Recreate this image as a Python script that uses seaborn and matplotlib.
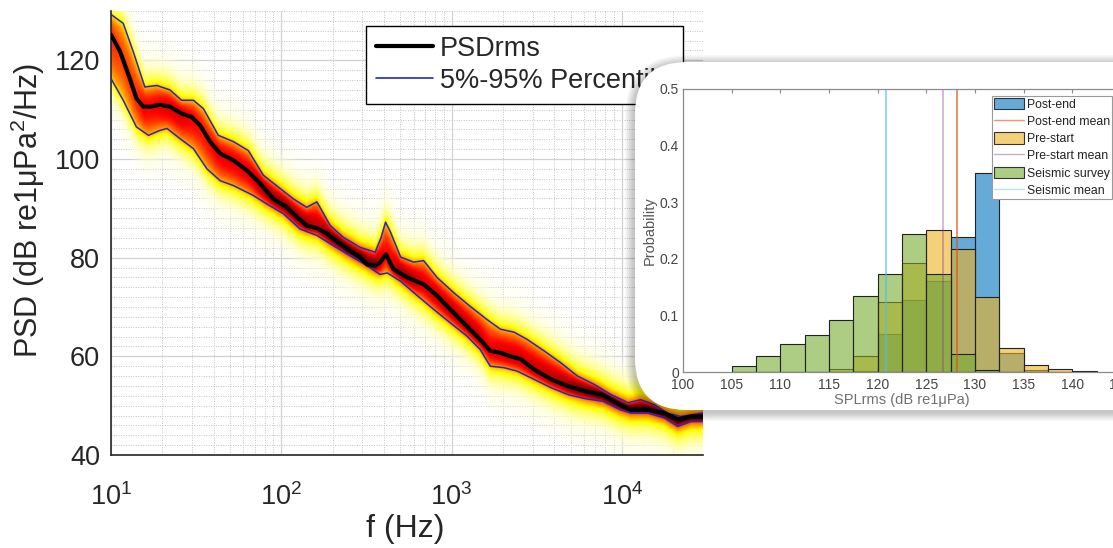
import numpy as np
import matplotlib
matplotlib.use('Agg')
import matplotlib.pyplot as plt
import seaborn as sns
from matplotlib.colors import ListedColormap, Normalize, to_rgba
from matplotlib.patches import FancyBboxPatch, Patch
from matplotlib.lines import Line2D
from matplotlib.transforms import IdentityTransform
from matplotlib.ticker import (LogLocator, MultipleLocator, NullFormatter,
                               FuncFormatter, LogFormatterMathtext)

# --- PSD curves ---
med_f = [10, 11.3, 12.9, 14.1, 15.5, 17.0, 19.4, 22.2, 26.0, 29.8, 33.4, 38.2, 43.8,
         52.5, 62.8, 75.2, 90.0, 108, 123, 141, 162, 186, 213, 250, 290, 320, 356,
         380, 412, 455, 550, 686, 822, 983, 1232, 1473, 1688, 1938, 2226, 2556,
         3066, 3867, 4870, 6150, 7740, 9760, 11300, 14200, 17800, 21300, 25600, 30000]
med_db = [125.2, 121.8, 116.3, 112.3, 110.6, 110.6, 111.0, 110.6, 109.2, 108.5, 106.8,
          103.5, 101.1, 99.7, 97.7, 95.0, 91.9, 90.2, 88.3, 86.5, 86.0, 84.8, 83.3,
          81.5, 80.1, 78.6, 78.4, 79.0, 80.7, 77.7, 76.0, 74.6, 72.3, 69.5, 66.1,
          63.4, 61.1, 60.7, 60.0, 59.4, 57.3, 55.3, 53.9, 52.9, 52.2, 50.2, 49.2,
          49.2, 48.5, 47.2, 47.8, 47.8]

up_f = [10, 11.8, 13.5, 15.8, 18.6, 22.2, 26.0, 30.5, 34.9, 42.7, 52.5, 64.1, 78.5,
        98.6, 118, 141, 162, 194, 232, 290, 356, 385, 410, 438, 503, 600, 686, 822,
        1030, 1280, 1610, 1938, 2330, 2790, 3500, 4380, 5500, 6900, 8700, 10900,
        12900, 15500, 18500, 22100, 30000]
up_db = [129.3, 127.5, 121.8, 114.6, 114.9, 114.0, 111.9, 111.9, 110.2, 104.8, 103.5,
         101.7, 96.7, 94.0, 91.9, 90.2, 91.3, 86.5, 84.1, 82.1, 81.1, 84.0, 87.2,
         85.2, 80.1, 79.1, 79.4, 76.0, 72.9, 70.2, 67.5, 65.5, 64.9, 63.4, 61.1,
         58.7, 56.0, 54.3, 52.2, 50.6, 51.2, 50.2, 48.5, 47.8, 48.5]

lo_f = [10, 11.8, 14.1, 16.6, 19.4, 21.3, 25.5, 30.5, 36.6, 43.8, 52.5, 68.6, 82.1,
        103, 129, 162, 203, 253, 318, 380, 420, 503, 630, 787, 983, 1232, 1473,
        1688, 2030, 2430, 3066, 3867, 4870, 6150, 7740, 9760, 11300, 14200, 17800,
        21300, 25600, 30000]
lo_db = [116.3, 111.9, 106.5, 104.8, 105.8, 106.2, 104.1, 102.1, 98.0, 95.6, 94.6,
         92.6, 90.9, 88.9, 85.8, 84.5, 82.4, 80.4, 78.4, 76.6, 76.9, 75.2, 72.3,
         69.5, 66.8, 64.1, 61.4, 58.0, 57.7, 57.0, 55.3, 53.6, 52.2, 51.4, 50.9,
         49.2, 48.5, 48.5, 47.5, 45.8, 46.8, 46.8]

# --- SPL histogram (probability per 2.5 dB bin) ---
spl_bins = [105, 107.5, 110, 112.5, 115, 117.5, 120, 122.5, 125, 127.5, 130, 132.5,
            135, 137.5, 140]
post_end = [0, 0, 0, 0, 0, 0.002, 0.068, 0.127, 0.160, 0.238, 0.351, 0.034, 0.003, 0, 0]
pre_start = [0, 0, 0, 0, 0.005, 0.028, 0.123, 0.193, 0.251, 0.218, 0.133, 0.043,
             0.012, 0.005, 0.001]
seismic = [0.011, 0.029, 0.049, 0.065, 0.091, 0.135, 0.174, 0.244, 0.173, 0.031,
           0.004, 0, 0, 0, 0]
means = {'Post-end': 128.1, 'Pre-start': 126.7, 'Seismic': 120.9}

c_blue, c_orange, c_yellow = '#0072BD', '#D95319', '#EDB120'
c_purple, c_green, c_cyan = '#7E2F8E', '#77AC30', '#4DBEEE'

sns.set_style('white')
plt.rcParams['font.family'] = ['Liberation Sans', 'DejaVu Sans']
plt.rcParams['mathtext.fontset'] = 'custom'
plt.rcParams['mathtext.rm'] = 'Liberation Sans'
plt.rcParams['mathtext.it'] = 'Liberation Sans:italic'
plt.rcParams['mathtext.bf'] = 'Liberation Sans:bold'

W, H = 1113, 548
fig = plt.figure(figsize=(W / 100, H / 100), dpi=100)

# ---------------- main PSD plot ----------------
ax = fig.add_axes([111 / W, 1 - 455 / H, 592 / W, 444 / H])

# probability density cloud built from the median / percentile curves
lf = np.linspace(1, np.log10(3e4), 520)
yy = np.linspace(40, 130, 420)
m = np.interp(lf, np.log10(med_f), med_db)
u = np.interp(lf, np.log10(up_f), up_db)
l = np.interp(lf, np.log10(lo_f), lo_db)
hu = np.maximum(u - m, 0.4)
hl = np.maximum(m - l, 0.4)
peak = 2 * 1.645 / (np.sqrt(2 * np.pi) * (hu + hl))
t0 = np.clip(1.1 + 0.23 * np.log(peak), 0.4, 0.95)
dy = yy[:, None] - m[None, :]
hw = np.where(dy > 0, hu, hl)
kk = np.abs(dy) / hw
inside = t0 * (1 - 0.45 * kk ** 2)
beyond = np.abs(dy) - hw
outside = 0.55 * t0 * np.exp(-beyond / 2.3)
tval = np.where(kk <= 1, inside, outside)

cols = plt.get_cmap('hot_r')(np.linspace(0, 1, 256))
cols[:, 3] = np.clip(np.linspace(0, 1, 256) / 0.2, 0, 1)
cmap = ListedColormap(cols)
ax.pcolormesh(10 ** lf, yy, tval, cmap=cmap, norm=Normalize(0, 1),
              shading='gouraud', rasterized=True, zorder=1)

sns.lineplot(x=up_f, y=up_db, color='#2626c4', linewidth=1.1, ax=ax, sort=False, zorder=3)
sns.lineplot(x=lo_f, y=lo_db, color='#2626c4', linewidth=1.1, ax=ax, sort=False, zorder=3)
sns.lineplot(x=med_f, y=med_db, color='black', linewidth=3, ax=ax, sort=False, zorder=4)

ax.set_xscale('log')
ax.set_xlim(10, 3e4)
ax.set_ylim(40, 130)
ax.set_yticks([40, 60, 80, 100, 120])
ax.yaxis.set_minor_locator(MultipleLocator(2))
ax.xaxis.set_major_locator(LogLocator(base=10, numticks=10))
ax.xaxis.set_major_formatter(LogFormatterMathtext())
ax.xaxis.set_minor_locator(LogLocator(base=10, subs=np.arange(2, 10), numticks=40))
ax.xaxis.set_minor_formatter(NullFormatter())
ax.grid(which='major', color='#d2d2d2', linewidth=0.9, linestyle='-')
ax.grid(which='minor', color='#c4c4c4', linewidth=0.7, linestyle=(0, (1, 1.5)))
ax.set_axisbelow(True)
ax.tick_params(which='major', direction='in', labelsize=19.5, length=6, width=1,
               colors='#262626')
ax.tick_params(which='minor', direction='in', length=3, width=0.8, colors='#262626')
ax.tick_params(axis='y', which='minor', length=0)
ax.tick_params(axis='x', which='major', pad=20)
ax.tick_params(axis='y', which='major', pad=8)
for s in ['top', 'right']:
    ax.spines[s].set_visible(False)
for s in ['left', 'bottom']:
    ax.spines[s].set_color('#262626')
    ax.spines[s].set_linewidth(1.2)

ax.set_xlabel('f (Hz)', fontsize=23, color='#262626')
ax.xaxis.set_label_coords(0.497, -0.132)
ax.set_ylabel(r'PSD (dB re1μPa$^2$/Hz)', fontsize=22, color='#262626')
ax.yaxis.set_label_coords(-0.108, 0.55)

leg_handles = [Line2D([], [], color='black', linewidth=3),
               Line2D([], [], color='#2626c4', linewidth=1.2)]
leg = ax.legend(leg_handles, ['PSDrms', '5%-95% Percentile'], fontsize=19.5,
                loc='upper left', mode='expand',
                bbox_to_anchor=(366 / W, 1 - 31 / H, (683 - 366) / W, 0.01),
                bbox_transform=fig.transFigure, frameon=True, fancybox=False,
                framealpha=1, edgecolor='black', handlelength=2.1,
                handletextpad=0.25, labelspacing=0.22, borderpad=0.38,
                borderaxespad=0)
leg.get_frame().set_linewidth(1.0)
leg.set_zorder(10)

# ---------------- inset card ----------------
bx0, by0, bw, bh = 635, H - 410, 560, 348
for i in range(10, 0, -1):
    fig.add_artist(FancyBboxPatch((bx0 - 1 - i * 0.9, by0 - 2 - i * 0.9),
                                  bw + i * 1.8, bh + i * 1.8,
                                  boxstyle='round,pad=0,rounding_size=%d' % (52 + i),
                                  transform=IdentityTransform(), facecolor='black',
                                  edgecolor='none', alpha=0.022, zorder=1))
fig.add_artist(FancyBboxPatch((bx0, by0), bw, bh,
                              boxstyle='round,pad=0,rounding_size=52',
                              transform=IdentityTransform(), facecolor='white',
                              edgecolor='none', zorder=1.5))

ax2 = fig.add_axes([683 / W, 1 - 372 / H, (1121 - 683) / W, (372 - 89) / H])
ax2.set_zorder(3)
ax2.patch.set_alpha(0)
centers = [b + 1.25 for b in spl_bins]
for vals, c in [(post_end, c_blue), (pre_start, c_yellow), (seismic, c_green)]:
    sns.histplot(x=centers, weights=vals, binwidth=2.5, binrange=(105, 142.5),
                 color=c, alpha=0.6, edgecolor='#222222', linewidth=0.8, ax=ax2)
ax2.axvline(means['Post-end'], color=c_orange, alpha=0.75, linewidth=1.2)
ax2.axvline(means['Pre-start'], color=c_purple, alpha=0.4, linewidth=1.2)
ax2.axvline(means['Seismic'], color=c_cyan, alpha=0.6, linewidth=1.4)

ax2.set_xlim(100, 145)
ax2.set_ylim(0, 0.5)
ax2.set_xticks(range(100, 146, 5))
ax2.set_yticks([0, 0.1, 0.2, 0.3, 0.4, 0.5])
ax2.yaxis.set_major_formatter(FuncFormatter(lambda v, p: '%g' % v))
ax2.tick_params(direction='in', labelsize=10, length=3, width=0.8, colors='#8a8a8a',
                labelcolor='#444444', top=True, right=True)
ax2.tick_params(axis='x', pad=4)
ax2.tick_params(axis='y', pad=3)
for s in ax2.spines.values():
    s.set_visible(True)
    s.set_color('#8a8a8a')
    s.set_linewidth(0.9)
ax2.set_xlabel('SPLrms (dB re1μPa)', fontsize=10.5, color='#707070', labelpad=1)
ax2.set_ylabel('Probability', fontsize=10.5, color='#555555', labelpad=2)

h2 = [Patch(facecolor=to_rgba(c_blue, 0.6), edgecolor='#333333', linewidth=0.8),
      Line2D([], [], color=c_orange, alpha=0.6, linewidth=1),
      Patch(facecolor=to_rgba(c_yellow, 0.6), edgecolor='#333333', linewidth=0.8),
      Line2D([], [], color=c_purple, alpha=0.4, linewidth=1),
      Patch(facecolor=to_rgba(c_green, 0.6), edgecolor='#333333', linewidth=0.8),
      Line2D([], [], color=c_cyan, alpha=0.4, linewidth=1)]
l2 = ['Post-end', 'Post-end mean', 'Pre-start', 'Pre-start mean', 'Seismic survey',
      'Seismic mean']
leg2 = ax2.legend(h2, l2, fontsize=8.8, loc='upper left',
                  bbox_to_anchor=(992 / W, 1 - 96 / H), bbox_transform=fig.transFigure,
                  frameon=True, fancybox=False, framealpha=1, edgecolor='#9a9a9a',
                  handlelength=2.45, handleheight=1.05, handletextpad=0.3,
                  labelspacing=0.36, borderpad=0.15, borderaxespad=0)
leg2.get_frame().set_linewidth(0.8)
for t in leg2.get_texts():
    t.set_color('#222222')

fig.savefig('out.png', dpi=100)
